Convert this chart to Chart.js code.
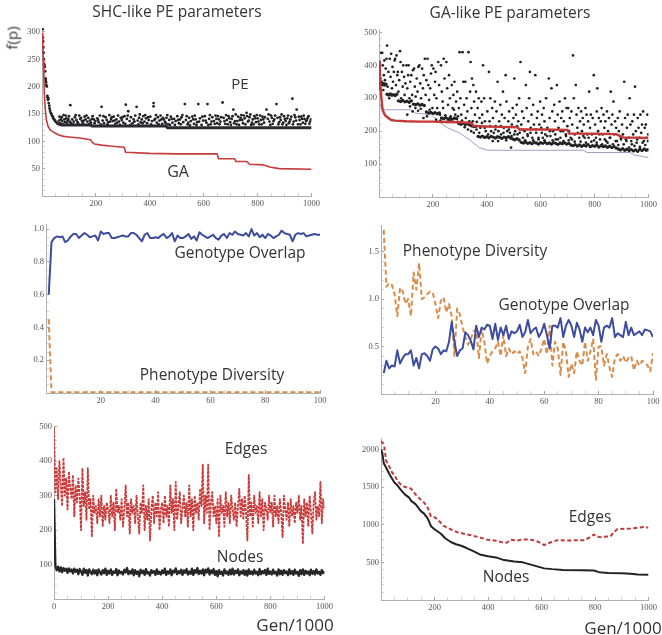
<!DOCTYPE html>
<html><head><meta charset="utf-8">
<script src="https://cdn.jsdelivr.net/npm/chart.js@4/dist/chart.umd.min.js"></script>
<style>
html,body{margin:0;padding:0;background:#fff;}
#wrap{position:relative;width:662px;height:635px;overflow:hidden;background:#fff;}
.lbl{position:absolute;transform:translate(-50%,-50%);white-space:nowrap;font-family:"Open Sans",sans-serif;color:#333;line-height:1;}
</style></head>
<body><div id="wrap"></div>
<script>
// ---------- Panel 1: SHC-like PE parameters ----------
const p1GA = [[0,297],[3,280],[5,250],[7,215],[9,185],[12,160],[16,140],[22,128],[30,121],[45,116],[60,112],[80,109],[100,108],[140,106],[180,103],[185,99],[195,95],[220,93],[260,91],[305,89],[310,80],[400,78],[500,77],[650,77],[655,68],[715,68],[720,63],[760,63],[770,58],[820,57],[845,53],[880,50],[1000,49]];
const p1PEFloor = [[55,133],[70,130],[180,130],[185,128],[460,128],[465,125],[1000,125]];
const p1PE = [[2,305],[3,290],[4,283],[5,272],[6,262],[7,250],[8,241],[9,238],[10,236],[12,228],[13,215],[14,212],[15,208],[16,203],[18,200],[20,183],[21,180],[22,176],[24,178],[25,170],[27,165],[28,160],[30,156],[32,152],[35,150],[37,147],[40,145],[42,142],[45,140],[48,138],[50,136],[55,134],[60,132],
[65,145],[70,140],[75,137],[80,148],[85,135],[90,142],[95,138],[100,146],[105,166],[108,133],[112,140],[118,136],[122,144],[128,139],[132,135],[138,147],[142,141],[148,137],[152,133],[158,145],[162,140],[168,136],[172,143],[178,138],[182,134],[188,146],[192,140],[198,137],
[205,142],[210,135],[215,147],[221,163],[225,138],[230,133],[236,144],[240,139],[246,135],[250,148],[256,141],[262,137],[266,145],[272,132],[276,140],[282,147],[286,136],[292,143],[296,139],[302,134],[306,146],[311,167],[315,141],[320,155],[325,137],[330,144],[336,133],[340,140],[346,147],[351,163],[355,138],[360,143],[366,135],[370,140],[376,146],[380,136],[386,142],[390,133],[396,139],
[402,145],[408,137],[414,170],[414,164],[420,141],[426,134],[430,144],[436,138],[440,147],[446,132],[452,140],[456,136],[462,143],[468,131],[472,139],[478,145],[484,134],[490,141],[496,137],[502,146],[508,133],[512,140],[518,144],[524,135],[530,168],[534,139],[540,131],[546,143],[552,137],[558,145],[564,132],[570,140],[576,135],[580,168],[586,142],[592,130],[598,138],
[604,146],[610,134],[614,168],[620,141],[626,131],[632,144],[638,137],[644,147],[650,133],[656,140],[662,136],[670,171],[674,143],[680,132],[686,139],[692,146],[698,135],[704,141],[710,158],[716,137],[722,131],[728,145],[734,139],[740,148],[746,133],[752,142],[759,152],[764,136],[770,144],[776,130],[782,140],[788,146],[794,135],
[800,142],[806,131],[812,139],[818,145],[824,134],[833,158],[838,141],[844,136],[850,147],[856,132],[862,140],[870,168],[874,143],[880,135],[886,139],[892,131],[898,146],[904,137],[910,142],[916,133],[922,140],[929,178],[934,136],[940,144],[945,158],[950,131],[956,139],[962,145],[968,134],[974,141],[980,137],[986,143],[992,132],[998,140],
[63,138],[68,133],[73,144],[78,131],[83,140],[88,147],[93,134],[98,141],[103,136],[115,131],[125,148],[135,132],[145,143],[155,138],[165,147],[175,132],[185,141],[195,133],[208,139],[218,131],[228,146],[243,131],[253,136],[259,144],[269,138],[279,134],[289,130],[299,144],[309,132],[318,147],[328,130],[343,136],[358,131],[363,149],[373,133],[383,148],[393,144],[405,131],[417,139],[423,148],[433,131],[443,140],[449,143],[459,133],[465,148],[475,130],[481,141],[493,130],[505,139],[515,131],[521,148],[537,146],[543,134],[549,129],[561,140],[567,147],[573,130],[583,136],[595,145],[607,138],[617,130],[623,148],[629,136],[641,132],[647,141],[653,146],[659,131],[665,144],[677,137],[683,148],[689,131],[695,142],[701,130],[707,146],[713,133],[719,149],[725,137],[731,130],[737,143],[743,139],[749,147],[755,131],[761,146],[767,138],[773,149],[779,134],[785,131],[791,142],[797,148],[803,136],[809,147],[815,131],[821,140],[827,144],[841,149],[847,130],[853,143],[859,137],[865,147],[877,131],[883,144],[889,149],[895,134],[901,141],[907,130],[913,147],[919,136],[925,145],[931,131],[937,148],[943,138],[953,145],[959,131],[965,141],[971,147],[977,132],[983,139],[989,146],[995,136]];
const p1XTicks = [200,400,600,800,1000];
const p1YTicks = [50,100,150,200,250,300];

// ---------- Panel 2: GA-like PE parameters ----------
const p2GA = [[0,412],[3,380],[6,330],[9,300],[13,268],[18,255],[25,246],[35,240],[45,234],[60,232],[100,230],[150,229],[200,229],[250,228],[300,227],[345,225],[350,216],[400,214],[450,213],[515,212],[520,205],[600,205],[700,204],[705,193],[800,192],[880,191],[905,181],[1000,179]];
const p2Bound = [[0,285],[5,280],[9,265],[120,265],[132,255],[194,250],[219,230],[255,210],[298,195],[342,170],[372,150],[403,142],[760,142],[772,135],[932,135],[945,128],[1000,120]];
const p2PEFloor = [[2,345],[6,342],[10,346],[14,341],[18,344],[22,340],[26,343],[30,312],[36,310],[42,313],[48,309],[54,311],[60,308],[66,312],[72,292],[80,290],[88,293],[96,289],[104,291],[112,288],[120,292],[128,282],[136,280],[144,283],[152,279],[160,281],[168,278],[176,258],[184,255],[192,257],[200,254],[208,256],[216,253],[224,255],[232,240],[240,238],[248,241],[256,237],[264,239],[272,236],[280,240],[288,238],[296,223],[304,221],[312,224],[320,220],[328,222],[336,219],[344,216],[352,214],[360,215],[368,184],[376,182],[384,185],[392,181],[400,183],[408,180],[416,184],[424,182],[432,179],[440,183],[448,181],[456,178],[464,182],[472,180],[480,183],[488,179],[496,176],[504,174],[512,177],[520,173],[528,166],[536,164],[544,167],[552,163],[560,165],[568,162],[576,166],[584,164],[592,161],[600,165],[608,163],[616,166],[624,162],[632,164],[640,161],[648,165],[656,163],[664,160],[672,164],[680,162],[688,165],[696,161],[704,163],[712,158],[720,156],[728,159],[736,155],[744,158],[752,154],[760,157],[768,155],[776,159],[784,153],[792,156],[800,154],[808,157],[816,152],[824,156],[832,153],[840,155],[848,151],[856,154],[864,150],[872,153],[880,149],[888,146],[896,143],[904,147],[912,142],[920,145],[928,141],[936,144],[944,140],[952,143],[960,139],[968,145],[976,141],[984,146],[992,142],[998,144]];
const p2PE = [[3,330],[5,360],[8,438],[10,350],[12,438],[14,400],[16,325],[18,370],[20,415],[22,355],[25,390],[28,420],[30,460],[32,335],[35,380],[38,300],[40,420],[43,365],[45,435],[48,330],[50,395],[52,350],[55,380],[58,415],[60,420],[63,340],[65,430],[68,370],[70,380],[72,320],[75,355],[78,443],[80,410],[82,300],[85,380],[88,335],[90,400],[93,365],[95,310],[98,345],
[102,400],[105,330],[108,370],[110,400],[113,300],[116,350],[120,370],[123,310],[126,385],[130,390],[133,335],[136,305],[140,360],[143,320],[146,395],[150,400],[153,345],[156,300],[160,390],[163,330],[166,370],[170,420],[173,310],[176,355],[180,420],[183,340],[186,295],[190,330],[193,375],[196,400],[198,270],
[202,390],[205,310],[208,350],[210,380],[213,300],[216,270],[220,410],[223,340],[226,250],[230,400],[233,320],[236,290],[240,420],[243,360],[246,248],[250,410],[253,330],[256,280],[260,370],[263,300],[266,245],[270,340],[273,270],[276,310],[280,350],[283,250],[286,290],[290,320],[293,245],[296,270],[299,440],
[302,300],[305,250],[310,440],[313,350],[316,280],[320,350],[322,240],[325,300],[328,260],[332,440],[335,230],[338,320],[340,410],[343,270],[345,360],[348,230],[350,340],[353,290],[356,250],[360,320],[363,228],[366,270],[370,300],[373,240],[376,210],[380,290],[383,250],[386,400],[390,300],[393,230],[396,200],
[402,260],[405,190],[408,380],[410,230],[413,300],[416,200],[420,270],[423,240],[426,195],[430,290],[433,215],[436,260],[440,350],[443,200],[446,230],[450,280],[453,190],[456,250],[460,320],[463,210],[466,240],[470,370],[473,290],[476,200],[480,230],[483,260],[486,195],[490,150],[493,220],[496,270],[499,240],
[502,360],[505,200],[508,250],[511,280],[514,190],[517,230],[520,300],[525,410],[528,220],[531,260],[534,180],[537,240],[540,200],[545,340],[548,270],[551,190],[554,230],[557,300],[560,380],[563,210],[566,250],[569,180],[572,280],[575,220],[580,370],[583,195],[586,240],[589,260],[592,180],[595,220],[598,290],
[602,210],[605,250],[608,180],[611,270],[614,230],[617,190],[620,300],[625,210],[630,360],[633,240],[636,185],[640,330],[643,260],[646,200],[650,280],[653,230],[656,175],[660,340],[663,250],[666,210],[670,290],[673,180],[676,240],[680,260],[683,200],[686,230],[690,300],[693,190],[696,270],[699,215],
[702,270],[705,200],[708,240],[711,180],[714,260],[717,220],[720,430],[723,300],[726,190],[730,340],[733,250],[736,210],[740,270],[743,180],[746,230],[750,260],[753,200],[756,240],[760,220],[763,180],[766,270],[770,250],[773,190],[776,230],[780,320],[783,210],[786,250],[790,190],[793,240],[797,370],
[802,220],[805,180],[808,260],[810,330],[813,200],[816,240],[820,175],[823,230],[826,270],[830,190],[833,250],[836,210],[840,230],[843,170],[846,260],[850,200],[853,240],[856,180],[860,320],[863,220],[866,250],[870,290],[873,190],[876,230],[880,210],[883,170],[886,240],[890,200],[893,260],[897,180],
[902,220],[905,190],[910,350],[913,240],[916,175],[920,210],[923,250],[926,180],[930,300],[933,220],[936,170],[940,230],[943,190],[946,250],[950,335],[953,200],[956,165],[960,240],[963,210],[966,180],[970,250],[973,195],[976,220],[980,260],[983,170],[986,210],[990,220],[993,180],[996,250],[999,190],
[105,250],[115,275],[125,260],[135,270],[145,262],[155,268],[165,240],[178,245],[188,265],[212,235],[228,232],[238,270],[252,228],[262,232],[278,265],[292,228],[308,232],[318,212],[330,205],[342,200],[352,195],[362,205],[372,195],[382,225],[392,210],[412,215],[422,170],[432,205],[442,170],[452,215],[462,195],[472,172],[482,205],[492,185],[502,190],[512,215],[522,195],[532,205],[542,172],[552,185],[562,195],[572,172],[582,205],[592,175],[604,195],[614,172],[624,185],[634,200],[644,172],[654,190],[664,175],[674,200],[684,170],[694,185],[704,172],[716,175],[726,168],[738,195],[748,168],[758,185],[768,165],[778,180],[788,168],[798,172],[808,165],[818,190],[828,160],[838,175],[848,165],[858,180],[868,160],[878,170],[888,158],[898,175],[908,160],[918,170],[928,150],[938,160],[948,155],[958,175],[968,152],[978,165],[988,158],[998,170]];
const p2XTicks = [200,400,600,800,1000];
const p2YTicks = [100,200,300,400,500];

// ---------- Panel 3: SHC-like overlap / diversity (x = 1..100) ----------
const p3Overlap = [0.60,0.92,0.945,0.955,0.95,0.955,0.92,0.93,0.955,0.97,0.97,0.945,0.96,0.975,0.965,0.95,0.955,0.96,0.93,0.985,
0.97,0.975,0.975,0.945,0.945,0.95,0.955,0.96,0.955,0.955,0.975,0.975,0.965,0.945,0.925,0.965,0.975,0.945,0.945,0.95,
0.945,0.96,0.97,0.945,0.955,0.975,0.925,0.96,0.945,0.945,0.955,0.97,0.94,0.955,0.93,0.98,0.965,0.955,0.945,0.955,
0.965,0.945,0.935,0.96,0.97,0.945,0.975,0.965,0.985,0.97,0.965,0.96,0.975,0.955,1.0,0.96,0.975,0.95,0.965,0.945,
0.97,0.96,0.945,0.955,0.965,0.99,0.975,0.97,0.965,0.925,0.965,0.975,0.97,0.975,0.955,0.96,0.965,0.97,0.965,0.965];
const p3Diversity = [[1,0.45],[2,0.005],[100,0.005]];
const p3XTicks = [20,40,60,80,100];
const p3YTicks = [0.2,0.4,0.6,0.8,1.0];

// ---------- Panel 4: GA-like overlap / diversity (x = 1..100) ----------
const p4Diversity = [1.73,1.13,1.17,1.15,1.05,0.82,1.12,1.08,0.95,1.0,0.82,1.28,1.1,1.38,1.0,1.02,1.05,1.08,1.07,0.95,
0.8,0.98,1.02,0.86,0.95,0.82,0.4,0.9,0.84,0.7,0.6,0.52,0.58,0.66,0.68,0.38,0.68,0.55,0.32,0.4,
0.45,0.48,0.55,0.4,0.62,0.4,0.48,0.42,0.45,0.42,0.45,0.38,0.22,0.5,0.58,0.42,0.45,0.4,0.48,0.58,
0.42,0.72,0.3,0.55,0.48,0.2,0.55,0.45,0.18,0.32,0.22,0.45,0.35,0.3,0.55,0.35,0.45,0.58,0.15,0.5,
0.5,0.3,0.42,0.28,0.18,0.38,0.42,0.35,0.4,0.33,0.38,0.4,0.25,0.35,0.3,0.35,0.33,0.3,0.24,0.43];
const p4Overlap = [0.22,0.35,0.27,0.3,0.29,0.46,0.32,0.38,0.42,0.42,0.46,0.3,0.38,0.27,0.42,0.43,0.4,0.35,0.47,0.5,
0.48,0.42,0.46,0.45,0.55,0.76,0.55,0.4,0.46,0.48,0.65,0.62,0.56,0.47,0.72,0.6,0.7,0.68,0.73,0.72,
0.58,0.74,0.57,0.7,0.62,0.72,0.58,0.66,0.64,0.66,0.73,0.6,0.65,0.78,0.64,0.68,0.7,0.6,0.65,0.74,
0.62,0.48,0.72,0.72,0.7,0.8,0.6,0.72,0.78,0.72,0.6,0.75,0.68,0.55,0.7,0.65,0.7,0.62,0.78,0.72,
0.55,0.7,0.72,0.7,0.8,0.6,0.64,0.62,0.6,0.76,0.62,0.7,0.62,0.64,0.66,0.62,0.68,0.67,0.66,0.6];
const p4XTicks = [20,40,60,80,100];
const p4YTicks = [0.5,1.0,1.5];

// ---------- Panel 5: SHC-like edges / nodes (x = 0,5,...,1000) ----------
const p5Edges = [500,310,380,290,400,330,270,410,300,350,260,370,320,290,360,240,330,280,350,300,
200,380,270,310,230,380,260,290,180,300,250,270,220,290,240,300,210,270,230,280,
260,220,300,240,280,200,320,250,270,230,290,210,260,330,240,280,190,290,250,270,
220,300,240,190,280,250,330,200,270,230,290,170,260,300,220,280,240,310,200,260,
280,220,300,240,270,210,330,250,290,200,340,230,270,310,220,260,300,240,280,210,
330,240,290,200,300,250,280,230,320,270,390,220,300,250,390,200,280,310,240,270,
220,290,180,300,250,270,210,310,240,280,220,300,260,230,280,210,270,320,240,290,
230,300,250,170,360,240,280,210,300,250,270,220,310,240,290,200,280,260,230,300,
250,280,210,300,240,270,220,290,250,180,300,260,230,280,210,290,240,270,220,280,
250,300,230,270,160,290,240,280,210,300,250,190,280,310,230,270,240,340,220,290,260];
const p5Nodes = [290,96,84,94,80,92,78,90,82,88,76,89,80,86,74,88,79,85,72,87,
80,70,88,76,84,68,86,78,72,85,74,83,69,86,77,71,84,75,88,70,
82,74,86,70,80,76,87,69,83,75,79,71,85,77,90,72,81,74,86,69,
84,73,80,66,85,75,82,70,87,74,78,68,84,76,81,70,86,73,79,71,
83,75,88,70,80,74,86,69,82,77,89,72,81,75,85,70,83,76,87,71,
80,73,88,70,84,76,90,72,82,74,86,69,85,77,89,71,83,75,87,70,
81,66,84,73,79,68,86,74,80,70,85,72,88,71,82,75,86,69,80,74,
84,70,82,68,86,73,80,71,85,74,79,69,87,72,81,75,84,70,88,73,
80,71,85,74,79,68,86,72,82,70,84,75,80,69,86,73,81,70,85,74,
79,67,84,72,86,70,82,74,80,69,85,73,81,71,86,74,79,70,84,75,80];
const p5XTicks = [0,200,400,600,800,1000];
const p5YTicks = [100,200,300,400,500];

// ---------- Panel 6: GA-like edges / nodes ----------
const p6Nodes = [[0,2000],[5,1950],[10,1820],[19,1760],[30,1680],[40,1620],[50,1560],[62,1520],[75,1460],[90,1400],[105,1360],[112,1320],[130,1270],[149,1180],[160,1150],[175,1080],[187,980],[200,940],[224,880],[240,820],[261,770],[280,740],[300,720],[320,690],[345,650],[373,600],[400,580],[435,560],[460,530],[498,510],[530,500],[560,470],[590,440],[610,420],[640,410],[680,400],[746,395],[796,392],[815,370],[850,360],[900,355],[933,350],[960,340],[1000,335]];
const p6Edges = [[0,2110],[8,2080],[12,2050],[19,1850],[30,1780],[40,1700],[50,1660],[62,1580],[75,1530],[90,1500],[112,1480],[130,1400],[149,1330],[162,1290],[174,1230],[187,1110],[200,1100],[211,1070],[236,980],[260,940],[286,900],[310,880],[336,860],[370,830],[398,800],[425,790],[448,770],[470,760],[485,800],[510,790],[535,805],[560,800],[572,790],[590,770],[610,730],[630,760],[660,795],[690,790],[709,790],[740,795],[759,795],[780,830],[796,870],[810,840],[821,835],[858,845],[870,900],[883,940],[910,945],[933,950],[960,960],[983,970],[1000,960]];
const p6XTicks = [200,400,600,800,1000];
const p6YTicks = [500,1000,1500,2000];

// ---------- helpers ----------
const wrap = document.getElementById('wrap');
const pts = arr => arr.map(p => ({x:p[0], y:p[1]}));
const seq = (arr, x0, dx) => arr.map((v,i) => ({x:x0+i*dx, y:v}));

function axis(cfg, dir, size){
  const minor = [];
  const n = Math.round((cfg.max - cfg.min) / cfg.minor);
  for (let i = 0; i <= n; i++) minor.push(+(cfg.min + i*cfg.minor).toFixed(6));
  const all = [...new Set([...minor, ...cfg.major])].filter(v => v <= cfg.max + 1e-9).sort((a,b)=>a-b);
  const isMajor = v => cfg.major.some(m => Math.abs(m - v) < 1e-9);
  return {
    type:'linear', min:cfg.min, max:cfg.max,
    afterBuildTicks: s => { s.ticks = all.map(v => ({value:v})); },
    afterFit: s => { if (dir === 'x') s.height = size; else s.width = size; },
    grid:{display:true, drawOnChartArea:false, drawTicks:true, tickLength:-3,
      tickColor: c => (c.tick && isMajor(c.tick.value)) ? '#a8a8a8' : '#d4d4d4', tickWidth:1},
    border:{display:true, color:'#b0b0b0', width:1},
    ticks:{autoSkip:false, maxRotation:0, minRotation:0, padding: dir === 'x' ? 6 : 5, color:'#555',
      font:{family:'"Liberation Serif", "DejaVu Serif", serif', size:8.5},
      callback: v => isMajor(v) ? cfg.fmt(v) : ''}
  };
}

function makeChart(area, xCfg, yCfg, datasets){
  const L = 40, T = 8, R = 14, B = 20;
  const al = Math.round(area.left), ar = Math.round(area.right), at = Math.round(area.top), ab = Math.round(area.bottom);
  const w = ar - al + L + R, h = ab - at + T + B;
  const c = document.createElement('canvas');
  c.width = w; c.height = h;
  c.style.cssText = `position:absolute;left:${al-L}px;top:${at-T}px;width:${w}px;height:${h}px;`;
  wrap.appendChild(c);
  new Chart(c, {
    type:'scatter',
    data:{datasets},
    options:{
      responsive:false, animation:false, events:[], devicePixelRatio:1,
      layout:{padding:{left:0, top:T, right:R, bottom:0}},
      plugins:{legend:{display:false}, tooltip:{enabled:false}, title:{display:false}},
      scales:{ x: axis(xCfg, 'x', B), y: axis(yCfg, 'y', L) }
    }
  });
}

const lineDs = (data, color, width, dash) => ({data, showLine:true, borderColor:color, borderWidth:width,
  borderDash: dash || [], pointRadius:0, tension:0, fill:false, borderJoinStyle:'round'});
const dotDs = (data, color, r) => ({data, showLine:false, pointRadius:r, pointBackgroundColor:color,
  pointBorderWidth:0, pointBorderColor:color});

const intFmt = v => String(v);
const dec1 = v => v.toFixed(1);

// Panel 1
makeChart({left:42.1, right:311.7, top:26.1, bottom:196},
  {min:0, max:1000, minor:50, major:p1XTicks, fmt:intFmt},
  {min:0, max:307, minor:10, major:p1YTicks, fmt:intFmt},
  [lineDs(pts(p1GA), '#c63b3b', 1.6),
   lineDs(pts(p1PEFloor), '#2a2a2e', 3),
   dotDs(pts(p1PE), '#222', 1.4)]);

// Panel 2
makeChart({left:378.5, right:649.3, top:26.7, bottom:196.7},
  {min:0, max:1000, minor:50, major:p2XTicks, fmt:intFmt},
  {min:0, max:510, minor:20, major:p2YTicks, fmt:intFmt},
  [lineDs(pts(p2GA), '#c43838', 2.4),
   dotDs(pts(p2PEFloor), '#222', 1.7),
   dotDs(pts(p2PE), '#222', 1.35),
   lineDs(pts(p2Bound), '#9d9dc9', 1)]);

// Panel 3
makeChart({left:45.9, right:320, top:222.2, bottom:393.2},
  {min:0, max:100, minor:5, major:p3XTicks, fmt:intFmt},
  {min:0, max:1.03, minor:0.05, major:p3YTicks, fmt:dec1},
  [lineDs(seq(p3Overlap, 1, 1), '#3d4c9e', 2),
   lineDs(pts(p3Diversity), '#d98c4a', 2, [5,3])]);

// Panel 4
makeChart({left:380.6, right:652.7, top:223.2, bottom:393.5},
  {min:0, max:100, minor:5, major:p4XTicks, fmt:intFmt},
  {min:0, max:1.78, minor:0.1, major:p4YTicks, fmt:dec1},
  [lineDs(seq(p4Overlap, 1, 1), '#3d4c9e', 2),
   lineDs(seq(p4Diversity, 1, 1), '#d98c4a', 2, [5,3])]);

// Panel 5
makeChart({left:54.3, right:325, top:424.3, bottom:598.75},
  {min:0, max:1000, minor:50, major:p5XTicks, fmt:intFmt},
  {min:0, max:502, minor:20, major:p5YTicks, fmt:intFmt},
  [lineDs(seq(p5Nodes, 0, 5), '#262626', 2.3),
   lineDs(seq(p5Edges, 0, 5), '#c93b3b', 1.8, [3,1])]);

// Panel 6
makeChart({left:381.4, right:649.3, top:435.6, bottom:599.9},
  {min:0, max:1000, minor:50, major:p6XTicks, fmt:intFmt},
  {min:0, max:2150, minor:100, major:p6YTicks, fmt:intFmt},
  [lineDs(pts(p6Nodes), '#222', 2),
   lineDs(pts(p6Edges), '#c0393b', 2, [4,2.5])]);

// ---------- Text ----------
const texts = [
  ['SHC-like PE parameters', 177, 12, 15.5],
  ['GA-like PE parameters', 510, 13, 15.5],
  ['PE', 240, 83, 15],
  ['GA', 178, 171, 16],
  ['Genotype Overlap', 240, 253, 15.5],
  ['Phenotype Diversity', 212, 375, 15.5],
  ['Phenotype Diversity', 475, 251, 15.5],
  ['Genotype Overlap', 564, 305, 15.5],
  ['Edges', 246, 449, 15.5],
  ['Nodes', 240, 557, 15.5],
  ['Gen/1000', 295, 624, 17],
  ['Edges', 590, 517, 15.5],
  ['Nodes', 506, 577, 15.5],
  ['Gen/1000', 623, 627, 17]
];
texts.forEach(([t,x,y,s]) => {
  const d = document.createElement('div');
  d.className = 'lbl'; d.textContent = t;
  d.style.left = x + 'px'; d.style.top = y + 'px'; d.style.fontSize = s + 'px';
  wrap.appendChild(d);
});
const fp = document.createElement('div');
fp.className = 'lbl'; fp.textContent = 'f(p)';
fp.style.left = '12px'; fp.style.top = '38px'; fp.style.fontSize = '15px';
fp.style.transform = 'translate(-50%,-50%) rotate(-90deg)';
wrap.appendChild(fp);
</script>
</body></html>
